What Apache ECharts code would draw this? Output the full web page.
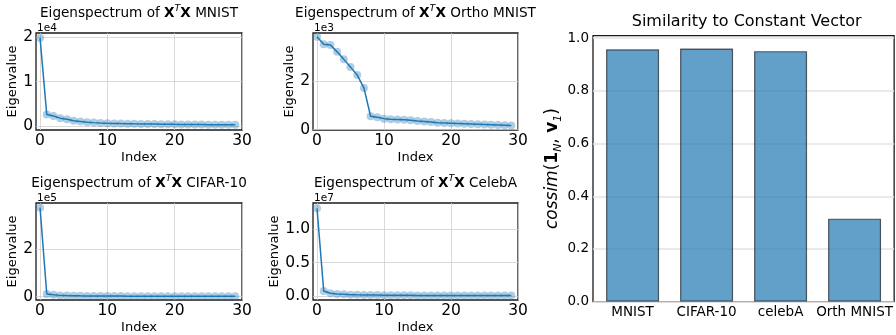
<!DOCTYPE html>
<html>
<head>
<meta charset="utf-8">
<script src="https://cdn.jsdelivr.net/npm/echarts@6/dist/echarts.min.js"></script>
<style>
  html, body { margin: 0; padding: 0; background: #ffffff; }
  #chart { width: 896px; height: 335px; }
</style>
</head>
<body>
<div id="chart"></div>
<script>
// Eigenvalue index (x) shared by the four spectra
const eigIndex = [0, 1, 2, 3, 4, 5, 6, 7, 8, 9, 10, 11, 12, 13, 14, 15, 16, 17, 18, 19, 20, 21, 22, 23, 24, 25, 26, 27, 28, 29];

// Leading 30 eigenvalues of X^T X for each dataset
const mnistEig = [19800, 2650, 2350, 1850, 1600, 1250, 1100, 950, 850, 780, 720, 680, 640, 610, 580, 560, 540, 520, 500, 480, 460, 450, 440, 420, 410, 400, 390, 380, 370, 360];
const orthoEig = [3830, 3520, 3490, 3210, 2900, 2580, 2250, 1720, 550, 510, 450, 420, 410, 400, 380, 350, 330, 310, 280, 270, 260, 250, 240, 230, 220, 210, 200, 190, 180, 170];
const cifarEig = [375000, 11000, 8000, 5500, 4500, 4000, 3500, 3200, 3000, 2800, 2600, 2500, 2400, 2300, 2200, 2100, 2000, 1950, 1900, 1850, 1800, 1750, 1700, 1650, 1600, 1550, 1500, 1450, 1400, 1350];
const celebEig = [13100000, 750000, 400000, 300000, 250000, 200000, 170000, 150000, 140000, 130000, 120000, 110000, 105000, 100000, 95000, 90000, 85000, 80000, 78000, 75000, 72000, 70000, 68000, 66000, 64000, 62000, 60000, 58000, 56000, 54000];

// Tick values
const indexTicks = [0, 10, 20, 30];
const mnistTicks = [0, 10000, 20000];
const orthoTicks = [0, 2000];
const cifarTicks = [0, 200000];
const celebTicks = [0, 5000000, 10000000];

// Cosine similarity of the leading eigenvector with the constant vector
const simCategories = ['MNIST', 'CIFAR-10', 'celebA', 'Orth MNIST'];
const simValues = [0.958, 0.961, 0.951, 0.315];
const simTicks = [0, 0.2, 0.4, 0.6, 0.8, 1.0];

const FONT = 'DejaVu Sans';
const BLUE = '#1f77b4';

const panels = [
  { name: 'MNIST', data: mnistEig, ticks: mnistTicks, exp: 4, digits: 0, yMin: -800, yMax: 20900,
    grid: { left: 36, top: 33, width: 206, height: 97 } },
  { name: 'Ortho MNIST', data: orthoEig, ticks: orthoTicks, exp: 3, digits: 0, yMin: -20, yMax: 3990,
    grid: { left: 313, top: 33, width: 205, height: 97 } },
  { name: 'CIFAR-10', data: cifarEig, ticks: cifarTicks, exp: 5, digits: 0, yMin: -14000, yMax: 395000,
    grid: { left: 36, top: 203, width: 206, height: 97 } },
  { name: 'CelebA', data: celebEig, ticks: celebTicks, exp: 7, digits: 1, yMin: -600000, yMax: 13900000,
    grid: { left: 313, top: 203, width: 205, height: 98 } }
];

const grids = [], xAxes = [], yAxes = [], series = [], graphics = [];

const TITLE_SIZE = 13.6;
const titleRich = {
  b: { fontFamily: FONT, fontSize: TITLE_SIZE, fontWeight: 'bold', fill: '#000' },
  s: { fontFamily: FONT, fontSize: 9.5, fontStyle: 'italic', fill: '#000', verticalAlign: 'top', lineHeight: 18 }
};

panels.forEach((p, i) => {
  grids.push(Object.assign({ show: true, borderColor: '#1a1a1a', borderWidth: 1.3, backgroundColor: 'transparent' }, p.grid));
  xAxes.push({
    type: 'value', gridIndex: i, min: -0.6, max: 30,
    name: 'Index', nameLocation: 'middle', nameGap: 21,
    nameTextStyle: { fontFamily: FONT, fontSize: 13, color: '#000' },
    axisLine: { show: false },
    axisTick: { show: false, customValues: indexTicks },
    axisLabel: { customValues: indexTicks, fontFamily: FONT, fontSize: 15.5, color: '#000', margin: 3 },
    splitLine: { show: true, lineStyle: { color: '#cfcfcf', width: 0.8 } }
  });
  const scale = Math.pow(10, p.exp);
  yAxes.push({
    type: 'value', gridIndex: i, min: p.yMin, max: p.yMax,
    name: 'Eigenvalue', nameLocation: 'middle', nameGap: 15, nameRotate: 90,
    nameTextStyle: { fontFamily: FONT, fontSize: 13, color: '#000' },
    axisLine: { show: false },
    axisTick: { show: false, customValues: p.ticks },
    axisLabel: { customValues: p.ticks, fontFamily: FONT, fontSize: 15.5, color: '#000', margin: 3,
      formatter: v => (v / scale).toFixed(p.digits) },
    splitLine: { show: true, lineStyle: { color: '#cfcfcf', width: 0.8 } }
  });
  const pts = eigIndex.map((x, k) => [x, p.data[k]]);
  series.push({
    type: 'scatter', xAxisIndex: i, yAxisIndex: i, data: pts, symbolSize: 8, z: 2,
    itemStyle: { color: 'rgba(31,119,180,0.45)' }, silent: true
  });
  series.push({
    type: 'line', xAxisIndex: i, yAxisIndex: i, data: pts, showSymbol: false, symbol: 'none', z: 3,
    lineStyle: { color: BLUE, width: 1.5 }, silent: true
  });

  // panel title and exponent label
  const g = p.grid;
  graphics.push({
    type: 'text', x: g.left + g.width / 2, y: g.top - 20,
    style: { text: 'Eigenspectrum of {b|X}{s|T}{b|X} ' + p.name, rich: titleRich,
      fontFamily: FONT, fontSize: TITLE_SIZE, fill: '#000', align: 'center', verticalAlign: 'middle' }
  });
  graphics.push({
    type: 'text', x: g.left + 1, y: g.top - 5,
    style: { text: '1e' + p.exp, fontFamily: FONT, fontSize: 10.5, fill: '#000', align: 'left', verticalAlign: 'middle' }
  });
});

// Similarity bar chart
grids.push({ show: true, left: 593, top: 35.6, width: 307, height: 266, borderColor: '#1a1a1a', borderWidth: 1.3, backgroundColor: 'transparent' });
xAxes.push({
  type: 'value', gridIndex: 4, min: -0.535, max: 3.535,
  axisLine: { show: false },
  axisTick: { show: false, customValues: [0, 1, 2, 3] },
  axisLabel: { customValues: [0, 1, 2, 3], fontFamily: FONT, fontSize: 13.5, color: '#000', margin: 4,
    formatter: v => simCategories[Math.round(v)] },
  splitLine: { show: false }
});
yAxes.push({
  type: 'value', gridIndex: 4, min: 0, max: 1.01,
  name: '{i|cossim}{n|(}{b|1}{sub|N}{n|, }{b|v}{sub|1}{n|)}',
  nameLocation: 'middle', nameGap: 17, nameRotate: 90,
  nameTextStyle: {
    fontFamily: FONT, fontSize: 17, color: '#000',
    rich: {
      i: { fontFamily: FONT, fontSize: 17, fontStyle: 'italic', color: '#000', lineHeight: 22 },
      n: { fontFamily: FONT, fontSize: 17, color: '#000', lineHeight: 22 },
      b: { fontFamily: FONT, fontSize: 17, fontWeight: 'bold', color: '#000', lineHeight: 22 },
      sub: { fontFamily: FONT, fontSize: 11, fontStyle: 'italic', color: '#000', lineHeight: 12, verticalAlign: 'bottom' }
    }
  },
  axisLine: { show: false },
  axisTick: { show: false, customValues: simTicks },
  axisLabel: { customValues: simTicks, fontFamily: FONT, fontSize: 13.5, color: '#000', margin: 4,
    formatter: v => v.toFixed(1) },
  splitLine: { show: true, lineStyle: { color: '#e3e3e3', width: 1.5 } }
});
series.push({
  type: 'bar', xAxisIndex: 4, yAxisIndex: 4,
  data: simCategories.map((c, k) => [k, simValues[k]]),
  barWidth: 53,
  itemStyle: { color: 'rgba(31,119,180,0.7)', borderColor: 'rgba(0,0,0,0.6)', borderWidth: 1.2 },
  silent: true
});
graphics.push({
  type: 'text', x: 746.7, y: 22,
  style: { text: 'Similarity to Constant Vector', fontFamily: FONT, fontSize: 16, fill: '#000', align: 'center', verticalAlign: 'middle' }
});

const chart = echarts.init(document.getElementById('chart'), null, { renderer: 'canvas' });
chart.setOption({
  animation: false,
  backgroundColor: '#ffffff',
  grid: grids,
  xAxis: xAxes,
  yAxis: yAxes,
  series: series,
  graphic: graphics
});
</script>
</body>
</html>
